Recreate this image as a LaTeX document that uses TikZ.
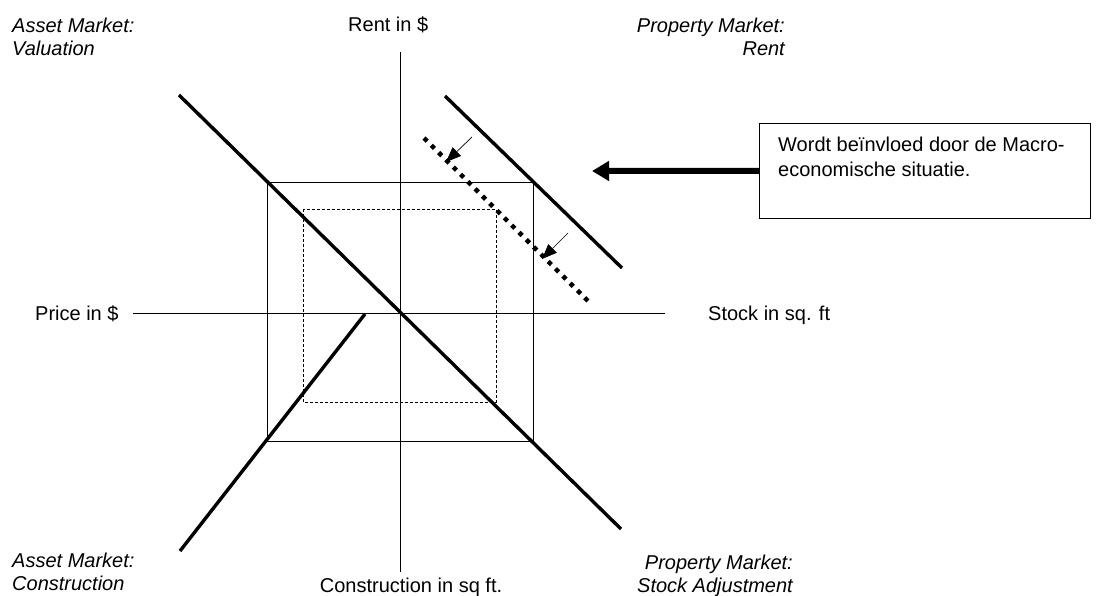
\documentclass[tikz,border=0pt]{standalone}
\usepackage{fontspec}
\setmainfont{Liberation Sans}
\usetikzlibrary{arrows.meta}
\begin{document}
\begin{tikzpicture}[x=1pt,y=-1pt,
  axis/.style={line width=0.9pt},
  curve/.style={line width=3.4pt},
  shifted/.style={line width=4.5pt, dash pattern=on 4.5pt off 5.8pt},
  push/.style={line width=0.7pt, -{Triangle[length=15pt,width=12pt]}},
  lbl/.style={inner sep=0pt, font=\fontsize{20}{23}\selectfont},
  quad/.style={lbl, font=\fontsize{20}{23}\selectfont\itshape}]
  \useasboundingbox (0,0) rectangle (1109,596);
  % axes
  \coordinate (yt) at (400,52);
  \coordinate (yb) at (400,572);
  \coordinate (xl) at (133,313);
  \coordinate (xr) at (665,313);
  \draw[axis] (yt) -- (yb);
  \draw[axis] (xl) -- (xr);
  % equilibrium squares
  \draw[axis] (267,182) rectangle (533,441);
  \draw[line width=0.8pt, dash pattern=on 3pt off 2pt] (303,209) rectangle (496,402);
  % market curves
  \coordinate (v1) at (179,95);
  \coordinate (v2) at (621,529);
  \coordinate (c1) at (180,551);
  \coordinate (c2) at (365,314);
  \coordinate (r1) at (445,96);
  \coordinate (r2) at (622,268);
  \coordinate (d1) at (424,138);
  \coordinate (d2) at (590,303);
  \draw[curve] (v1) -- (v2);
  \draw[curve] (c1) -- (c2);
  \draw[curve] (r1) -- (r2);
  \draw[shifted] (d1) -- (d2);
  % shift arrows
  \coordinate (a1) at (472,137);
  \coordinate (b1) at (446,162);
  \coordinate (a2) at (568,233);
  \coordinate (b2) at (542,259);
  \draw[push] (a1) -- (b1);
  \draw[push] (a2) -- (b2);
  % note
  \node[draw, line width=0.8pt, inner sep=0pt, minimum width=331pt, minimum height=95pt,
    anchor=north west] (box) at (759,123) {};
  \node[lbl, font=\fontsize{20}{25}\selectfont, anchor=north west, align=left] (note)
    at (778,137) {Wordt beïnvloed door de Macro-\\economische situatie.};
  \coordinate (tip) at (592,171);
  \draw[line width=6pt, -{Triangle[length=17pt,width=19pt]}] (box.west) -- (tip);
  % labels
  \node[lbl, anchor=base west] (rent) at (348,32) {Rent in \$};
  \node[lbl, anchor=base west] (price) at (35,320) {Price in \$};
  \node[lbl, anchor=base west] (stock) at (708,320) {Stock in sq. ft};
  \node[lbl, anchor=base] (constr) at (411,592) {Construction in sq ft.};
  \node[quad, anchor=north west, align=left] (valuation) at (12,18) {Asset Market:\\Valuation};
  \node[quad, anchor=north east, align=right] (rentmkt) at (785,18) {Property Market:\\Rent};
  \node[quad, anchor=north west, align=left] (construction) at (12,553) {Asset Market:\\Construction};
  \node[quad, anchor=north east, align=right] (stockadj) at (793,555) {Property Market:\\Stock Adjustment};
\end{tikzpicture}
\end{document}
